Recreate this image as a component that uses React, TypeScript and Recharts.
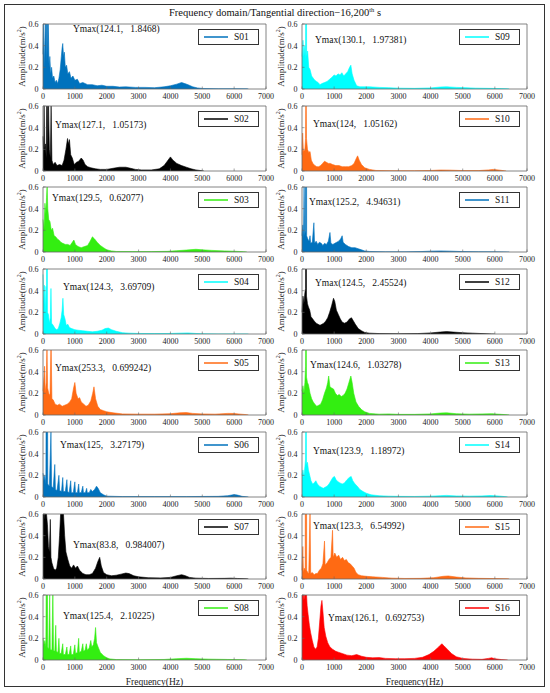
import { AreaChart, Area, XAxis, YAxis, ReferenceArea, Legend, Label } from "recharts";

const FONT = '"Liberation Serif", "Times New Roman", serif';

const freqTicks = [0, 1000, 2000, 3000, 4000, 5000, 6000, 7000];
const ampTicks = [0, 0.2, 0.4, 0.6];

const sensorNames = [
	"S01", "S02", "S03", "S04", "S05", "S06", "S07", "S08",
	"S09", "S10", "S11", "S12", "S13", "S14", "S15", "S16",
];
const sensorColors = [
	"#0072BD", "#000000", "#33ee11", "#00ffff", "#ff6a13", "#0072BD", "#000000", "#33ee11",
	"#00ffff", "#ff6a13", "#0072BD", "#000000", "#33ee11", "#00ffff", "#ff6a13", "#ff0000",
];
const peakFreq = [124.1, 127.1, 129.5, 124.3, 253.3, 125, 83.8, 125.4, 130.1, 124, 125.2, 124.5, 124.6, 123.9, 123.3, 126.1];
const peakAmp = [1.8468, 1.05173, 0.62077, 3.69709, 0.699242, 3.27179, 0.984007, 2.10225, 1.97381, 1.05162, 4.94631, 2.45524, 1.03278, 1.18972, 6.54992, 0.692753];

// spectrum envelopes: [frequency Hz, amplitude m/s2]
const s01 = [[0,0.32],[20,0.6],[40,0.2],[60,0.45],[80,0.7],[100,0.25],[124,1.85],[145,0.3],[165,0.62],[190,0.2],[215,0.3],[240,0.14],[270,0.2],[300,0.1],[340,0.12],[380,0.06],[420,0.08],[460,0.05],[500,0.1],[540,0.18],[575,0.3],[600,0.38],[620,0.42],[645,0.3],[670,0.34],[700,0.2],[740,0.22],[780,0.14],[830,0.16],[880,0.1],[940,0.12],[1000,0.08],[1080,0.09],[1150,0.05],[1250,0.06],[1400,0.04],[1550,0.04],[1700,0.03],[1850,0.035],[2000,0.025],[2200,0.025],[2400,0.018],[2600,0.02],[2900,0.015],[3200,0.015],[3500,0.012],[3800,0.02],[4000,0.03],[4200,0.045],[4350,0.06],[4450,0.05],[4550,0.04],[4700,0.02],[4850,0.01],[5000,0.005],[5500,0.003],[6000,0.003],[6400,0.002],[6450,0]];
const s02 = [[0,0.32],[20,0.15],[35,0.6],[50,0.2],[80,0.25],[100,0.12],[127,1.05],[150,0.18],[175,0.6],[200,0.2],[230,0.12],[255,0.6],[280,0.1],[320,0.06],[380,0.08],[440,0.05],[520,0.06],[600,0.05],[660,0.1],[720,0.2],[770,0.3],[800,0.25],[830,0.29],[870,0.15],[920,0.12],[980,0.06],[1050,0.08],[1120,0.09],[1200,0.12],[1260,0.1],[1320,0.06],[1400,0.04],[1500,0.03],[1650,0.02],[1800,0.015],[2000,0.015],[2200,0.025],[2400,0.035],[2600,0.035],[2750,0.025],[2900,0.015],[3100,0.01],[3400,0.01],[3650,0.02],[3800,0.05],[3900,0.09],[4000,0.13],[4080,0.1],[4200,0.07],[4350,0.05],[4500,0.035],[4650,0.02],[4800,0.01],[4950,0.004],[5050,0]];
const s03 = [[0,0.3],[30,0.2],[60,0.45],[90,0.35],[110,0.5],[130,0.62],[150,0.4],[180,0.3],[220,0.28],[260,0.2],[300,0.22],[350,0.15],[400,0.14],[450,0.12],[500,0.11],[560,0.09],[620,0.08],[700,0.07],[780,0.07],[850,0.06],[920,0.09],[970,0.11],[1020,0.07],[1100,0.05],[1200,0.04],[1300,0.05],[1400,0.06],[1480,0.1],[1550,0.14],[1620,0.12],[1700,0.09],[1800,0.06],[1900,0.04],[2000,0.02],[2150,0.01],[2300,0.005],[2800,0.004],[3400,0.004],[3900,0.006],[4200,0.012],[4500,0.018],[4800,0.025],[5000,0.02],[5300,0.015],[5700,0.01],[6000,0.007],[6300,0.003],[6400,0]];
const s04 = [[0,0.55],[20,0.3],[45,0.45],[70,0.2],[95,0.44],[110,0.25],[124,3.7],[140,0.2],[170,0.18],[200,0.1],[230,0.15],[250,0.42],[270,0.1],[320,0.08],[380,0.05],[430,0.04],[480,0.05],[530,0.1],[570,0.15],[600,0.22],[625,0.33],[650,0.18],[690,0.14],[730,0.08],[780,0.09],[830,0.06],[900,0.05],[1000,0.04],[1100,0.035],[1250,0.03],[1400,0.025],[1550,0.02],[1700,0.025],[1850,0.035],[1950,0.05],[2050,0.055],[2150,0.04],[2300,0.025],[2500,0.012],[2700,0.008],[3000,0.005],[3500,0.004],[4000,0.005],[4300,0.008],[4550,0.01],[4800,0.005],[5000,0.002],[5500,0.001],[6400,0.001],[6450,0]];
const s05 = [[0,0.22],[30,0.35],[50,0.45],[70,0.2],[100,0.3],[125,0.65],[145,0.25],[180,0.2],[220,0.18],[253,0.7],[280,0.15],[320,0.14],[380,0.1],[450,0.09],[520,0.1],[600,0.08],[680,0.09],[760,0.1],[840,0.12],[900,0.15],[960,0.25],[1000,0.3],[1040,0.2],[1100,0.15],[1150,0.16],[1200,0.12],[1280,0.1],[1350,0.08],[1420,0.09],[1500,0.13],[1560,0.2],[1600,0.26],[1650,0.15],[1720,0.08],[1800,0.05],[1900,0.04],[2000,0.03],[2200,0.02],[2500,0.01],[3000,0.008],[3500,0.008],[4000,0.012],[4300,0.02],[4500,0.022],[4700,0.015],[5000,0.01],[5400,0.008],[5800,0.015],[6000,0.014],[6200,0.008],[6400,0.003],[6450,0]];
const s06 = [[0,0.22],[30,0.15],[60,0.2],[90,0.12],[125,3.27],[150,0.12],[200,0.1],[250,0.6],[270,0.1],[320,0.08],[370,0.3],[390,0.07],[440,0.06],[500,0.2],[520,0.06],[580,0.05],[620,0.18],[640,0.05],[700,0.05],[750,0.16],[770,0.05],[820,0.04],[870,0.15],[890,0.04],[950,0.04],[1000,0.14],[1020,0.04],[1080,0.04],[1120,0.12],[1140,0.04],[1200,0.04],[1250,0.1],[1270,0.04],[1330,0.04],[1370,0.08],[1390,0.04],[1450,0.04],[1500,0.07],[1550,0.05],[1620,0.07],[1680,0.1],[1730,0.08],[1800,0.04],[1900,0.02],[2000,0.008],[2500,0.004],[3500,0.004],[4500,0.004],[5500,0.006],[5800,0.012],[6000,0.022],[6100,0.018],[6250,0.006],[6400,0.002],[6450,0]];
const s07 = [[0,0.6],[30,0.65],[60,0.55],[84,0.98],[110,0.6],[140,0.5],[170,0.3],[200,0.25],[230,0.55],[250,0.2],[280,0.15],[330,0.1],[380,0.08],[430,0.1],[480,0.2],[520,0.4],[560,0.65],[600,0.7],[640,0.62],[680,0.4],[720,0.25],[780,0.18],[840,0.12],[900,0.1],[960,0.13],[1020,0.1],[1080,0.12],[1150,0.08],[1250,0.05],[1350,0.04],[1450,0.04],[1550,0.05],[1650,0.1],[1720,0.16],[1780,0.2],[1830,0.12],[1900,0.06],[2000,0.04],[2150,0.03],[2300,0.035],[2450,0.045],[2600,0.055],[2700,0.05],[2850,0.03],[3000,0.02],[3300,0.012],[3700,0.01],[4000,0.015],[4200,0.03],[4350,0.04],[4450,0.032],[4600,0.015],[4800,0.008],[5200,0.005],[5700,0.006],[5900,0.008],[6100,0.005],[6400,0.002],[6450,0]];
const s08 = [[0,0.2],[30,0.14],[60,0.18],[90,0.12],[125,2.1],[145,0.12],[180,0.1],[210,0.6],[230,0.1],[280,0.09],[310,0.65],[330,0.09],[370,0.08],[400,0.32],[420,0.08],[470,0.07],[500,0.2],[520,0.06],[570,0.06],[620,0.15],[640,0.05],[700,0.05],[750,0.12],[770,0.05],[820,0.05],[870,0.13],[890,0.05],[950,0.05],[1000,0.14],[1020,0.06],[1080,0.07],[1120,0.2],[1140,0.07],[1200,0.08],[1250,0.15],[1270,0.08],[1320,0.09],[1360,0.15],[1390,0.09],[1450,0.11],[1500,0.18],[1530,0.12],[1580,0.14],[1620,0.2],[1650,0.3],[1680,0.16],[1730,0.12],[1800,0.07],[1900,0.04],[2000,0.02],[2100,0.01],[2300,0.004],[3000,0.003],[3800,0.005],[4200,0.012],[4500,0.016],[4800,0.012],[5200,0.008],[5800,0.005],[6300,0.003],[6400,0]];
const s09 = [[0,0.3],[30,0.45],[60,0.3],[90,0.4],[110,0.25],[124,1.97],[145,0.3],[175,0.35],[210,0.2],[250,0.18],[300,0.12],[350,0.1],[400,0.08],[450,0.07],[500,0.06],[560,0.04],[620,0.05],[700,0.06],[780,0.07],[860,0.09],[940,0.11],[1000,0.13],[1060,0.12],[1120,0.14],[1180,0.13],[1240,0.15],[1300,0.12],[1360,0.14],[1420,0.16],[1480,0.2],[1520,0.22],[1560,0.14],[1620,0.08],[1700,0.03],[1800,0.02],[1900,0.02],[2100,0.02],[2400,0.015],[2700,0.012],[3000,0.008],[3500,0.006],[4000,0.01],[4300,0.018],[4500,0.02],[4800,0.015],[5100,0.012],[5400,0.008],[5800,0.006],[6200,0.004],[6400,0.002],[6450,0]];
const s10 = [[0,0.15],[20,0.35],[40,0.2],[60,0.18],[90,0.2],[110,0.3],[124,1.05],[140,0.3],[170,0.2],[210,0.17],[250,0.18],[290,0.1],[340,0.07],[400,0.05],[460,0.04],[520,0.04],[580,0.05],[640,0.07],[700,0.09],[760,0.08],[820,0.07],[880,0.07],[950,0.06],[1050,0.05],[1150,0.05],[1250,0.04],[1350,0.04],[1450,0.04],[1550,0.05],[1620,0.07],[1680,0.11],[1730,0.14],[1780,0.1],[1850,0.06],[1950,0.03],[2100,0.015],[2300,0.005],[2800,0.003],[3500,0.003],[4000,0.005],[4300,0.009],[4600,0.008],[5000,0.004],[5500,0.004],[5800,0.01],[5950,0.015],[6100,0.01],[6300,0.002],[6350,0]];
const s11 = [[0,0.15],[25,0.25],[45,0.12],[65,0.6],[85,0.15],[105,0.2],[125,4.9],[145,0.15],[180,0.12],[220,0.1],[250,0.15],[270,0.08],[320,0.09],[370,0.27],[390,0.08],[440,0.1],[490,0.07],[540,0.09],[600,0.08],[650,0.06],[700,0.08],[760,0.07],[820,0.1],[870,0.18],[900,0.08],[960,0.07],[1020,0.08],[1080,0.09],[1140,0.1],[1200,0.12],[1250,0.15],[1280,0.09],[1350,0.07],[1450,0.05],[1550,0.04],[1650,0.04],[1750,0.03],[1850,0.02],[1950,0.01],[2100,0.005],[2600,0.002],[3200,0.002],[3700,0.004],[4000,0.008],[4300,0.01],[4600,0.008],[5000,0.004],[5500,0.003],[6000,0.002],[6400,0.001],[6450,0]];
const s12 = [[0,0.2],[30,0.35],[60,0.28],[90,0.38],[110,0.42],[125,2.46],[140,0.35],[170,0.28],[200,0.25],[240,0.22],[280,0.16],[330,0.14],[380,0.12],[440,0.1],[500,0.09],[560,0.08],[620,0.09],[680,0.1],[740,0.12],[800,0.15],[860,0.2],[920,0.26],[980,0.33],[1020,0.3],[1070,0.22],[1130,0.18],[1190,0.14],[1250,0.11],[1320,0.1],[1400,0.11],[1480,0.14],[1540,0.15],[1600,0.12],[1660,0.09],[1750,0.05],[1850,0.03],[1950,0.015],[2100,0.008],[2400,0.004],[3000,0.003],[3600,0.004],[4000,0.01],[4300,0.018],[4500,0.022],[4700,0.018],[5000,0.012],[5300,0.008],[5600,0.004],[5900,0.001],[6000,0]];
const s13 = [[0,0.22],[30,0.27],[60,0.2],[90,0.3],[110,0.45],[125,1.03],[140,0.35],[170,0.3],[200,0.28],[250,0.2],[300,0.15],[350,0.12],[400,0.1],[460,0.08],[520,0.09],[580,0.1],[640,0.14],[700,0.2],[760,0.25],[800,0.3],[830,0.36],[870,0.26],[920,0.25],[980,0.24],[1040,0.2],[1100,0.18],[1160,0.19],[1220,0.17],[1280,0.18],[1340,0.2],[1400,0.24],[1460,0.3],[1520,0.36],[1560,0.3],[1610,0.2],[1680,0.12],[1760,0.08],[1850,0.05],[1950,0.03],[2100,0.015],[2400,0.008],[2700,0.01],[3000,0.006],[3500,0.006],[4000,0.01],[4300,0.018],[4500,0.02],[4800,0.012],[5200,0.008],[5600,0.01],[5900,0.012],[6200,0.006],[6400,0.002],[6450,0]];
const s14 = [[0,0.2],[30,0.25],[60,0.18],[90,0.28],[110,0.35],[124,1.19],[140,0.3],[170,0.32],[200,0.25],[240,0.2],[280,0.15],[330,0.12],[380,0.13],[430,0.15],[480,0.12],[540,0.1],[600,0.09],[660,0.08],[720,0.09],[780,0.1],[840,0.12],[900,0.15],[960,0.18],[1010,0.19],[1060,0.16],[1120,0.14],[1180,0.13],[1250,0.12],[1320,0.13],[1400,0.16],[1470,0.18],[1530,0.19],[1580,0.15],[1650,0.12],[1720,0.1],[1800,0.07],[1900,0.05],[2000,0.035],[2150,0.02],[2400,0.012],[2700,0.008],[3000,0.006],[3500,0.005],[4000,0.008],[4300,0.012],[4500,0.015],[4800,0.01],[5200,0.008],[5600,0.01],[5850,0.014],[6100,0.01],[6300,0.004],[6400,0]];
const s15 = [[0,0.08],[25,0.3],[45,0.06],[70,0.1],[100,0.08],[123,6.5],[145,0.08],[180,0.06],[210,0.05],[250,0.65],[270,0.05],[320,0.06],[380,0.04],[430,0.05],[480,0.05],[540,0.08],[600,0.1],[650,0.14],[700,0.35],[720,0.13],[780,0.15],[840,0.18],[900,0.2],[950,0.45],[970,0.2],[1020,0.24],[1080,0.2],[1140,0.22],[1200,0.18],[1260,0.2],[1320,0.17],[1380,0.18],[1440,0.15],[1500,0.14],[1560,0.12],[1620,0.1],[1680,0.06],[1750,0.04],[1850,0.03],[2000,0.025],[2200,0.02],[2500,0.015],[2800,0.008],[3200,0.005],[3700,0.006],[4100,0.012],[4400,0.025],[4550,0.028],[4800,0.018],[5100,0.01],[5500,0.006],[6000,0.004],[6400,0.002],[6450,0]];
const s16 = [[0,0.6],[30,0.7],[60,0.55],[90,0.62],[126,0.69],[160,0.5],[190,0.42],[230,0.32],[270,0.25],[320,0.18],[370,0.12],[420,0.1],[470,0.12],[510,0.2],[550,0.35],[590,0.5],[620,0.55],[650,0.45],[690,0.3],[740,0.22],[800,0.16],[870,0.12],[950,0.1],[1050,0.08],[1150,0.07],[1250,0.06],[1400,0.045],[1550,0.04],[1700,0.05],[1850,0.035],[2000,0.025],[2200,0.02],[2400,0.022],[2600,0.015],[2900,0.012],[3200,0.012],[3500,0.015],[3750,0.025],[3950,0.05],[4100,0.08],[4250,0.12],[4350,0.15],[4420,0.13],[4520,0.1],[4650,0.06],[4800,0.03],[5000,0.015],[5300,0.008],[5600,0.006],[5800,0.015],[5900,0.02],[6000,0.012],[6200,0.004],[6400,0]];

const spectra = [s01, s02, s03, s04, s05, s06, s07, s08, s09, s10, s11, s12, s13, s14, s15, s16];

// layout (pixels)
const colLeft = [43, 302];
const colWidth = [223, 225];
const plotH = 65;
const yAxisW = 42;
const rightPad = 12;
const noteOffsets = [
	[30, 5], [12, 19], [9, 11], [20, 18], [12, 18], [17, 13], [30, 31], [20, 21],
	[13, 16], [11, 18], [7, 15], [13, 14], [8, 15], [11, 19], [11, 12], [26, 23],
];

const tickStyle = { fontSize: 8, fill: "#222", fontFamily: FONT };

function AmpLabel(props: any) {
	const vb = props.viewBox || { x: 0, y: 0, width: yAxisW, height: plotH };
	const x = vb.x + vb.width - 21;
	const y = vb.y + vb.height / 2;
	return (
		<text
			x={x}
			y={y}
			transform={`rotate(-90 ${x} ${y})`}
			textAnchor="middle"
			dominantBaseline="central"
			fontSize={9}
			fontFamily={FONT}
			fill="#222"
		>
			Amplitude(m/s<tspan dy={-3} fontSize={6}>2</tspan>
			<tspan dy={3}>)</tspan>
		</text>
	);
}

function LegendBox({ payload, fallbackName, fallbackColor }: any) {
	const item = payload && payload[0];
	const name = item ? item.value : fallbackName;
	const color = (item && item.color) || fallbackColor;
	return (
		<div
			style={{
				width: 61,
				height: 16,
				boxSizing: "border-box",
				border: "1px solid #333",
				background: "#fff",
				display: "flex",
				alignItems: "center",
				fontFamily: FONT,
				fontSize: 9.5,
				color: "#111",
			}}
		>
			<svg width={30} height={14} style={{ display: "block" }}>
				<line x1={5} y1={7} x2={29} y2={7} stroke={color} strokeWidth={1.5} />
			</svg>
			<span style={{ marginLeft: 5 }}>{name}</span>
		</div>
	);
}

function Panel({ i }: { i: number }) {
	const col = i < 8 ? 0 : 1;
	const row = i % 8;
	const plotLeft = colLeft[col];
	const plotW = colWidth[col];
	const plotTop = Math.round(24 + 81.6 * row);
	const bottomRow = row === 7;
	const axisH = bottomRow ? 30 : 14;
	const W = yAxisW + plotW + rightPad;
	const H = 4 + plotH + axisH;
	const data = spectra[i].map(([f, a]) => ({ f, a }));
	const [nx, ny] = noteOffsets[i];
	const color = sensorColors[i];

	return (
		<div style={{ position: "absolute", left: plotLeft - yAxisW, top: plotTop - 4, width: W, height: H }}>
			<AreaChart width={W} height={H} data={data} margin={{ top: 4, right: rightPad, bottom: 0, left: 0 }}>
				<XAxis
					dataKey="f"
					type="number"
					domain={[0, 7000]}
					ticks={freqTicks}
					interval={0}
					height={axisH}
					axisLine={false}
					tickLine={{ stroke: "#666", strokeWidth: 0.6 }}
					tickSize={-2.5}
					tickMargin={7}
					tick={tickStyle}
				>
					{bottomRow && (
						<Label
							value="Frequency(Hz)"
							position="insideBottom"
							offset={5}
							style={{ fontSize: 9.5, fill: "#222", fontFamily: FONT }}
						/>
					)}
				</XAxis>
				<YAxis
					type="number"
					domain={[0, 0.6]}
					ticks={ampTicks}
					allowDataOverflow
					width={yAxisW}
					axisLine={false}
					tickLine={{ stroke: "#666", strokeWidth: 0.6 }}
					tickSize={-2.5}
					tickMargin={7}
					tick={tickStyle}
				>
					<Label content={AmpLabel} />
				</YAxis>
				<Area
					type="linear"
					dataKey="a"
					name={sensorNames[i]}
					stroke={color}
					strokeWidth={0.6}
					fill={color}
					fillOpacity={1}
					dot={false}
					activeDot={false}
					isAnimationActive={false}
				/>
				<ReferenceArea
					x1={0}
					x2={7000}
					y1={0}
					y2={0.6}
					fill="none"
					stroke="#666"
					strokeWidth={0.8}
					ifOverflow="visible"
				/>
				<Legend
					layout="vertical"
					align="center"
					verticalAlign="middle"
					wrapperStyle={{ top: 4 + 5, left: yAxisW + plotW - 7 - 61, width: 61, height: 16 }}
					content={(p: any) => <LegendBox payload={p.payload} fallbackName={sensorNames[i]} fallbackColor={color} />}
				/>
			</AreaChart>
			<div
				style={{
					position: "absolute",
					left: yAxisW + nx,
					top: 4 + ny - 6,
					fontFamily: FONT,
					fontSize: 9.5,
					lineHeight: "12px",
					color: "#111",
					whiteSpace: "pre",
				}}
			>
				{`Ymax(${peakFreq[i]},   ${peakAmp[i]})`}
			</div>
		</div>
	);
}

export default function App() {
	return (
		<div
			style={{
				position: "absolute",
				left: 0,
				top: 0,
				width: 550,
				height: 693,
				background: "#fff",
				fontFamily: FONT,
			}}
		>
			<div
				style={{
					position: "absolute",
					left: 4,
					top: 4,
					width: 541,
					height: 683,
					boxSizing: "border-box",
					border: "1.5px solid #333",
				}}
			/>
			<div
				style={{
					position: "absolute",
					left: 0,
					width: 550,
					top: 6,
					textAlign: "center",
					fontSize: 10.5,
					lineHeight: "14px",
					color: "#111",
				}}
			>
				Frequency domain/Tangential direction−16,200<sup style={{ fontSize: 6.5, lineHeight: 0 }}>th</sup> s
			</div>
			{sensorNames.map((_, i) => (
				<Panel key={i} i={i} />
			))}
		</div>
	);
}
